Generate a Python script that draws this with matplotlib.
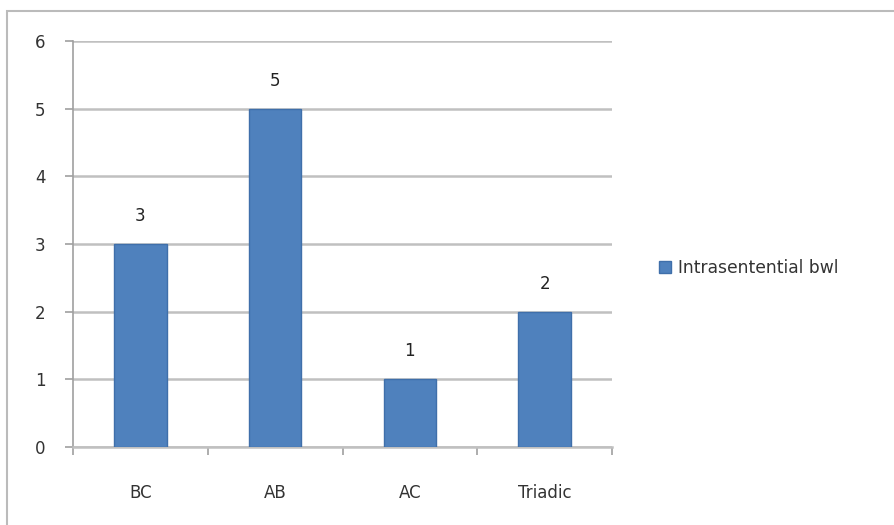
import matplotlib.pyplot as plt
import numpy as np

categories = ['BC', 'AB', 'AC', 'Triadic']
values = [3, 5, 1, 2]
series_name = 'Intrasentential bwl'

fig = plt.figure(figsize=(8.94, 5.25), dpi=100)
ax = fig.add_axes([0.0817, 0.1486, 0.6029, 0.7733])

x = np.arange(len(categories))
bars = ax.bar(x, values, width=0.39, color='#4F81BD', edgecolor='#3F6FAA',
              linewidth=1, label=series_name, zorder=3)
for b, v in zip(bars, values):
    ax.text(b.get_x() + b.get_width() / 2, v + 0.28, str(v), ha='center',
            va='bottom', fontsize=12, color='#222222')

ax.set_xlim(-0.5, len(categories) - 0.5)
ax.set_ylim(0, 6)
ax.set_yticks(range(7))
ax.yaxis.grid(True, color='#C0C0C0', linewidth=1.8, zorder=0)
ax.set_xticks(x)
ax.set_xticklabels(categories)
ax.set_xticks(np.arange(-0.5, len(categories)), minor=True)
ax.tick_params(axis='x', which='major', length=0, pad=27, labelsize=12, labelcolor='#333333')
ax.tick_params(axis='x', which='minor', length=6, color='#A0A0A0', width=1.2)
ax.tick_params(axis='y', length=6, color='#A0A0A0', width=1.2, pad=14,
               labelsize=12, labelcolor='#333333')
for s in ['top', 'right']:
    ax.spines[s].set_visible(False)
ax.spines['left'].set_color('#A0A0A0')
ax.spines['left'].set_linewidth(1.2)
ax.spines['bottom'].set_color('#C0C0C0')
ax.spines['bottom'].set_linewidth(1.8)

leg = fig.legend(loc='center left', bbox_to_anchor=(0.72, 0.49), frameon=False,
                 fontsize=12.3, handlelength=0.7, handleheight=0.7, handletextpad=0.4)
for t in leg.get_texts():
    t.set_color('#333333')

# outer chart border
fig.patches.append(plt.Rectangle((7 / 894, -0.01), 1.0, 1 - 11 / 525 + 0.01,
                                 transform=fig.transFigure, fill=False,
                                 edgecolor='#BBBBBB', linewidth=1.5))

fig.savefig('out.png', dpi=100)
